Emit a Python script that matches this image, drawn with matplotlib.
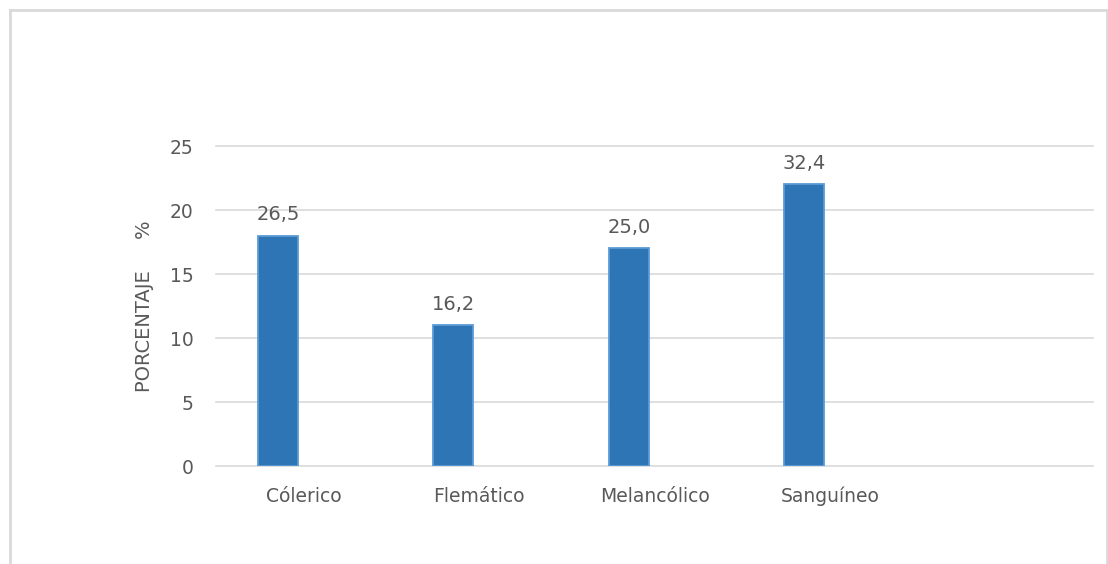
import matplotlib
matplotlib.use("Agg")
import matplotlib.pyplot as plt
from matplotlib.lines import Line2D
import numpy as np

categories = ["Cólerico", "Flemático", "Melancólico", "Sanguíneo"]
counts = [18, 11, 17, 22]
yticks = [0, 5, 10, 15, 20, 25]

total = sum(counts)
pct_labels = [f"{c / total * 100:.1f}".replace(".", ",") for c in counts]

plt.rcParams["font.family"] = ["DejaVu Sans"]
text_color = "#595959"

W, H = 1108, 564
fig = plt.figure(figsize=(W / 100, H / 100), dpi=100)
ax = fig.add_axes([216 / W, 1 - 466 / H, (1093 - 216) / W, (466 - 146) / H])

x = np.arange(len(categories))
bars = ax.bar(x - 0.1465, counts, width=0.228, color="#2E75B6",
              edgecolor="#5B9BD5", linewidth=1.3, zorder=3)
ax.bar_label(bars, labels=pct_labels, padding=8, fontsize=14, color=text_color)

ax.set_xlim(-0.5, len(categories) + 0.5)
ax.set_ylim(0, 25)
ax.set_yticks(yticks)
ax.set_xticks(np.arange(len(categories) + 1))
ax.set_xticklabels(categories + [""])
ax.tick_params(axis="both", length=0, labelsize=13.5, colors=text_color)
ax.tick_params(axis="x", pad=15)
ax.tick_params(axis="y", pad=16)
ax.grid(axis="y", color="#d9d9d9", linewidth=1.2, zorder=0)
for gl in ax.get_ygridlines():
    gl.set_clip_on(False)
for s in ax.spines.values():
    s.set_visible(False)

fig.text(145 / W, 1 - 306 / H, "PORCENTAJE     %", rotation=90,
         ha="center", va="center", fontsize=14, color=text_color)

# chart area frame (bottom edge falls outside the canvas)
bc = "#d9d9d9"
fig.lines.append(Line2D([9.5 / W, 9.5 / W], [0, 1 - 9.5 / H], transform=fig.transFigure, color=bc, lw=2))
fig.lines.append(Line2D([9.5 / W, 1106.5 / W], [1 - 9.5 / H, 1 - 9.5 / H], transform=fig.transFigure, color=bc, lw=2))
fig.lines.append(Line2D([1106.5 / W, 1106.5 / W], [0, 1 - 9.5 / H], transform=fig.transFigure, color=bc, lw=2))

fig.savefig("out.png", dpi=100)
